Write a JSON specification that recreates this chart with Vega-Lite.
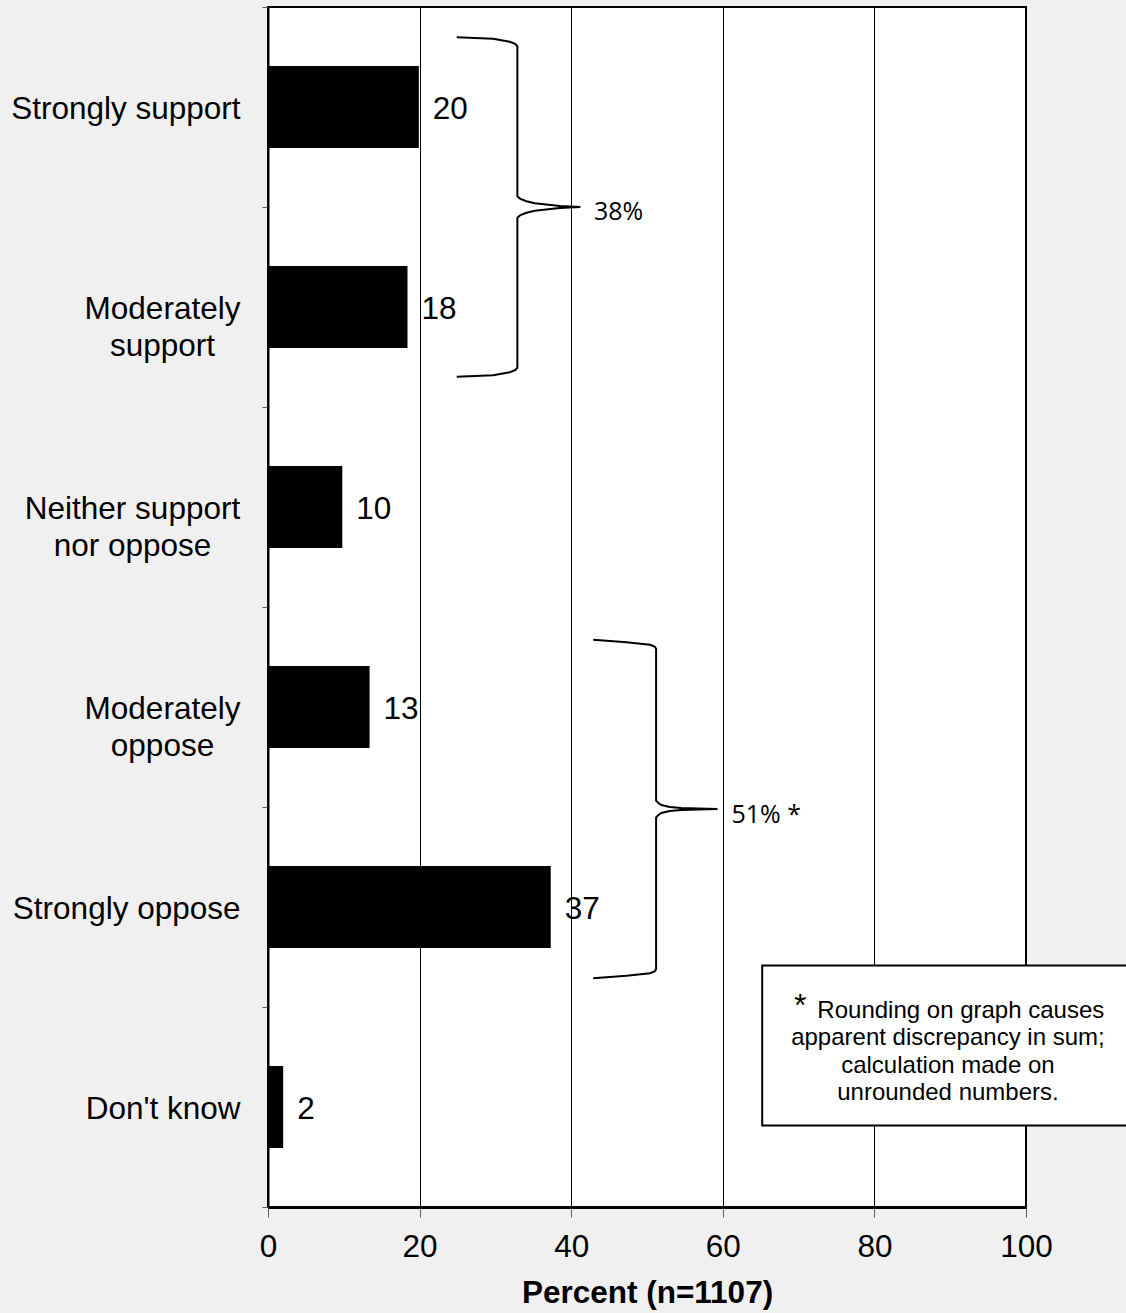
{
  "$schema": "https://vega.github.io/schema/vega-lite/v6.json",
  "width": 758,
  "height": 1200,
  "autosize": {"type": "none"},
  "padding": {"left": 268, "top": 7, "right": 100, "bottom": 106},
  "background": "#f0f0f0",
  "config": {
    "view": {"fill": "white", "stroke": "black", "strokeWidth": 2},
    "font": "Liberation Sans"
  },
  "datasets": {
    "responses": [
      {"response": "Strongly support", "percent": 19.9},
      {"response": "Moderately support", "percent": 18.4},
      {"response": "Neither support nor oppose", "percent": 9.8},
      {"response": "Moderately oppose", "percent": 13.4},
      {"response": "Strongly oppose", "percent": 37.3},
      {"response": "Don't know", "percent": 2.0}
    ],
    "braces": [
      {"brace": "support", "seq": 1, "pct": 24.9, "pos": 0.151},
      {"brace": "support", "seq": 2, "pct": 29.7, "pos": 0.159},
      {"brace": "support", "seq": 3, "pct": 31.9, "pos": 0.174},
      {"brace": "support", "seq": 4, "pct": 32.6, "pos": 0.184},
      {"brace": "support", "seq": 5, "pct": 32.9, "pos": 0.196},
      {"brace": "support", "seq": 6, "pct": 32.9, "pos": 0.946},
      {"brace": "support", "seq": 7, "pct": 33.3, "pos": 0.960},
      {"brace": "support", "seq": 8, "pct": 34.1, "pos": 0.971},
      {"brace": "support", "seq": 9, "pct": 35.2, "pos": 0.981},
      {"brace": "support", "seq": 10, "pct": 36.7, "pos": 0.988},
      {"brace": "support", "seq": 11, "pct": 38.5, "pos": 0.995},
      {"brace": "support", "seq": 12, "pct": 41.2, "pos": 1.0},
      {"brace": "support", "seq": 13, "pct": 38.5, "pos": 1.005},
      {"brace": "support", "seq": 14, "pct": 36.7, "pos": 1.012},
      {"brace": "support", "seq": 15, "pct": 35.2, "pos": 1.019},
      {"brace": "support", "seq": 16, "pct": 34.1, "pos": 1.029},
      {"brace": "support", "seq": 17, "pct": 33.3, "pos": 1.040},
      {"brace": "support", "seq": 18, "pct": 32.9, "pos": 1.054},
      {"brace": "support", "seq": 19, "pct": 32.9, "pos": 1.804},
      {"brace": "support", "seq": 20, "pct": 32.6, "pos": 1.816},
      {"brace": "support", "seq": 21, "pct": 31.9, "pos": 1.826},
      {"brace": "support", "seq": 22, "pct": 29.7, "pos": 1.841},
      {"brace": "support", "seq": 23, "pct": 24.9, "pos": 1.849},
      {"brace": "oppose", "seq": 1, "pct": 42.9, "pos": 3.164},
      {"brace": "oppose", "seq": 2, "pct": 47.3, "pos": 3.176},
      {"brace": "oppose", "seq": 3, "pct": 50.4, "pos": 3.189},
      {"brace": "oppose", "seq": 4, "pct": 51.0, "pos": 3.198},
      {"brace": "oppose", "seq": 5, "pct": 51.2, "pos": 3.209},
      {"brace": "oppose", "seq": 6, "pct": 51.2, "pos": 3.968},
      {"brace": "oppose", "seq": 7, "pct": 51.5, "pos": 3.980},
      {"brace": "oppose", "seq": 8, "pct": 51.9, "pos": 3.990},
      {"brace": "oppose", "seq": 9, "pct": 53.0, "pos": 4.000},
      {"brace": "oppose", "seq": 10, "pct": 54.5, "pos": 4.005},
      {"brace": "oppose", "seq": 11, "pct": 59.3, "pos": 4.010},
      {"brace": "oppose", "seq": 12, "pct": 54.5, "pos": 4.015},
      {"brace": "oppose", "seq": 13, "pct": 53.0, "pos": 4.020},
      {"brace": "oppose", "seq": 14, "pct": 51.9, "pos": 4.030},
      {"brace": "oppose", "seq": 15, "pct": 51.5, "pos": 4.040},
      {"brace": "oppose", "seq": 16, "pct": 51.2, "pos": 4.052},
      {"brace": "oppose", "seq": 17, "pct": 51.2, "pos": 4.811},
      {"brace": "oppose", "seq": 18, "pct": 51.0, "pos": 4.822},
      {"brace": "oppose", "seq": 19, "pct": 50.4, "pos": 4.831},
      {"brace": "oppose", "seq": 20, "pct": 47.3, "pos": 4.844},
      {"brace": "oppose", "seq": 21, "pct": 42.9, "pos": 4.856}
    ]
  },
  "layer": [
    {
      "data": {"name": "responses"},
      "encoding": {
        "y": {
          "field": "response",
          "type": "nominal",
          "sort": null,
          "scale": {"paddingInner": 0, "paddingOuter": 0},
          "axis": {
            "title": null,
            "domain": true,
            "domainColor": "black",
            "domainWidth": 2,
            "ticks": true,
            "tickColor": "#606060",
            "tickSize": 6,
            "tickWidth": 1,
            "tickBand": "extent",
            "grid": false,
            "labelFont": "Liberation Sans",
            "labelFontSize": 31.5,
            "labelColor": "black",
            "labelLimit": 400,
            "labelLineHeight": 37,
            "labelBaseline": "middle",
            "labelOffset": 2,
            "labelExpr": "datum.value == 'Moderately support' ? ['Moderately', 'support'] : datum.value == 'Neither support nor oppose' ? ['Neither support', 'nor oppose'] : datum.value == 'Moderately oppose' ? ['Moderately', 'oppose'] : datum.value",
            "labelAlign": {
              "condition": {"test": "datum.value == 'Moderately support' || datum.value == 'Neither support nor oppose' || datum.value == 'Moderately oppose'", "value": "center"},
              "value": "right"
            },
            "labelPadding": {
              "condition": [
                {"test": "datum.value == 'Neither support nor oppose'", "value": 130},
                {"test": "datum.value == 'Moderately support' || datum.value == 'Moderately oppose'", "value": 100}
              ],
              "value": 22
            }
          }
        },
        "x": {
          "field": "percent",
          "type": "quantitative",
          "scale": {"domain": [0, 100], "nice": false},
          "axis": {
            "title": "Percent (n=1107)",
            "titleFont": "Liberation Sans",
            "titleFontSize": 31.5,
            "titleFontWeight": "bold",
            "titleColor": "black",
            "titlePadding": 15,
            "values": [0, 20, 40, 60, 80, 100],
            "grid": true,
            "gridColor": "black",
            "gridWidth": 1,
            "gridOpacity": 1,
            "domainColor": "black",
            "domainWidth": 3,
            "tickColor": "#606060",
            "tickSize": 10,
            "tickWidth": 1,
            "labelFont": "Liberation Sans",
            "labelFontSize": 31.5,
            "labelColor": "black",
            "labelPadding": 14,
            "labelFlush": false,
            "labelOverlap": false
          }
        }
      },
      "layer": [
        {"mark": {"type": "bar", "color": "black", "height": {"band": 0.41}}},
        {
          "mark": {"type": "text", "align": "left", "baseline": "middle", "dx": 14, "dy": 3, "fontSize": 31.5, "font": "Liberation Sans", "color": "black"},
          "encoding": {"text": {"field": "percent", "type": "quantitative", "format": ".0f"}}
        }
      ]
    },
    {
      "layer": [
        {
          "data": {"name": "braces"},
          "mark": {"type": "line", "color": "black", "strokeWidth": 2},
          "encoding": {
            "x": {"field": "pct", "type": "quantitative", "scale": {"domain": [0, 100], "nice": false}, "axis": null},
            "y": {"field": "pos", "type": "quantitative", "scale": {"domain": [0, 6], "reverse": true, "nice": false, "zero": false}, "axis": null},
            "detail": {"field": "brace"},
            "order": {"field": "seq"}
          }
        },
        {
          "data": {"values": [{}]},
          "mark": {"type": "text", "text": "38%", "font": "Open Sans", "fontSize": 25, "align": "left", "baseline": "middle", "color": "black"},
          "encoding": {
            "x": {"datum": 43.0, "type": "quantitative", "axis": null},
            "y": {"datum": 1.025, "type": "quantitative", "axis": null}
          }
        },
        {
          "data": {"values": [{}]},
          "mark": {"type": "text", "text": "51% *", "font": "Open Sans", "fontSize": 25, "align": "left", "baseline": "middle", "color": "black"},
          "encoding": {
            "x": {"datum": 61.15, "type": "quantitative", "axis": null},
            "y": {"datum": 4.04, "type": "quantitative", "axis": null}
          }
        },
        {
          "data": {"values": [{}]},
          "mark": {"type": "rect", "fill": "white", "stroke": "black", "strokeWidth": 2},
          "encoding": {
            "x": {"datum": 65.2, "type": "quantitative", "axis": null},
            "x2": {"datum": 115},
            "y": {"datum": 4.7925, "type": "quantitative", "axis": null},
            "y2": {"datum": 5.5925}
          }
        },
        {
          "data": {"values": [{}]},
          "mark": {"type": "text", "text": "*", "font": "Liberation Sans", "fontSize": 32, "align": "center", "baseline": "alphabetic", "color": "black"},
          "encoding": {
            "x": {"datum": 70.2, "type": "quantitative", "axis": null},
            "y": {"datum": 5.045, "type": "quantitative", "axis": null}
          }
        },
        {
          "data": {"values": [{}]},
          "mark": {"type": "text", "text": "Rounding on graph causes", "font": "Liberation Sans", "fontSize": 24, "align": "center", "baseline": "alphabetic", "color": "black"},
          "encoding": {
            "x": {"datum": 91.4, "type": "quantitative", "axis": null},
            "y": {"datum": 5.0525, "type": "quantitative", "axis": null}
          }
        },
        {
          "data": {"values": [{}]},
          "mark": {
            "type": "text",
            "text": ["apparent discrepancy in sum;", "calculation made on", "unrounded numbers."],
            "font": "Liberation Sans",
            "fontSize": 24,
            "lineHeight": 27.5,
            "align": "center",
            "baseline": "alphabetic",
            "color": "black"
          },
          "encoding": {
            "x": {"datum": 89.7, "type": "quantitative", "axis": null},
            "y": {"datum": 5.19, "type": "quantitative", "axis": null}
          }
        }
      ]
    }
  ],
  "resolve": {"scale": {"y": "independent"}, "axis": {"x": "independent", "y": "independent"}}
}
